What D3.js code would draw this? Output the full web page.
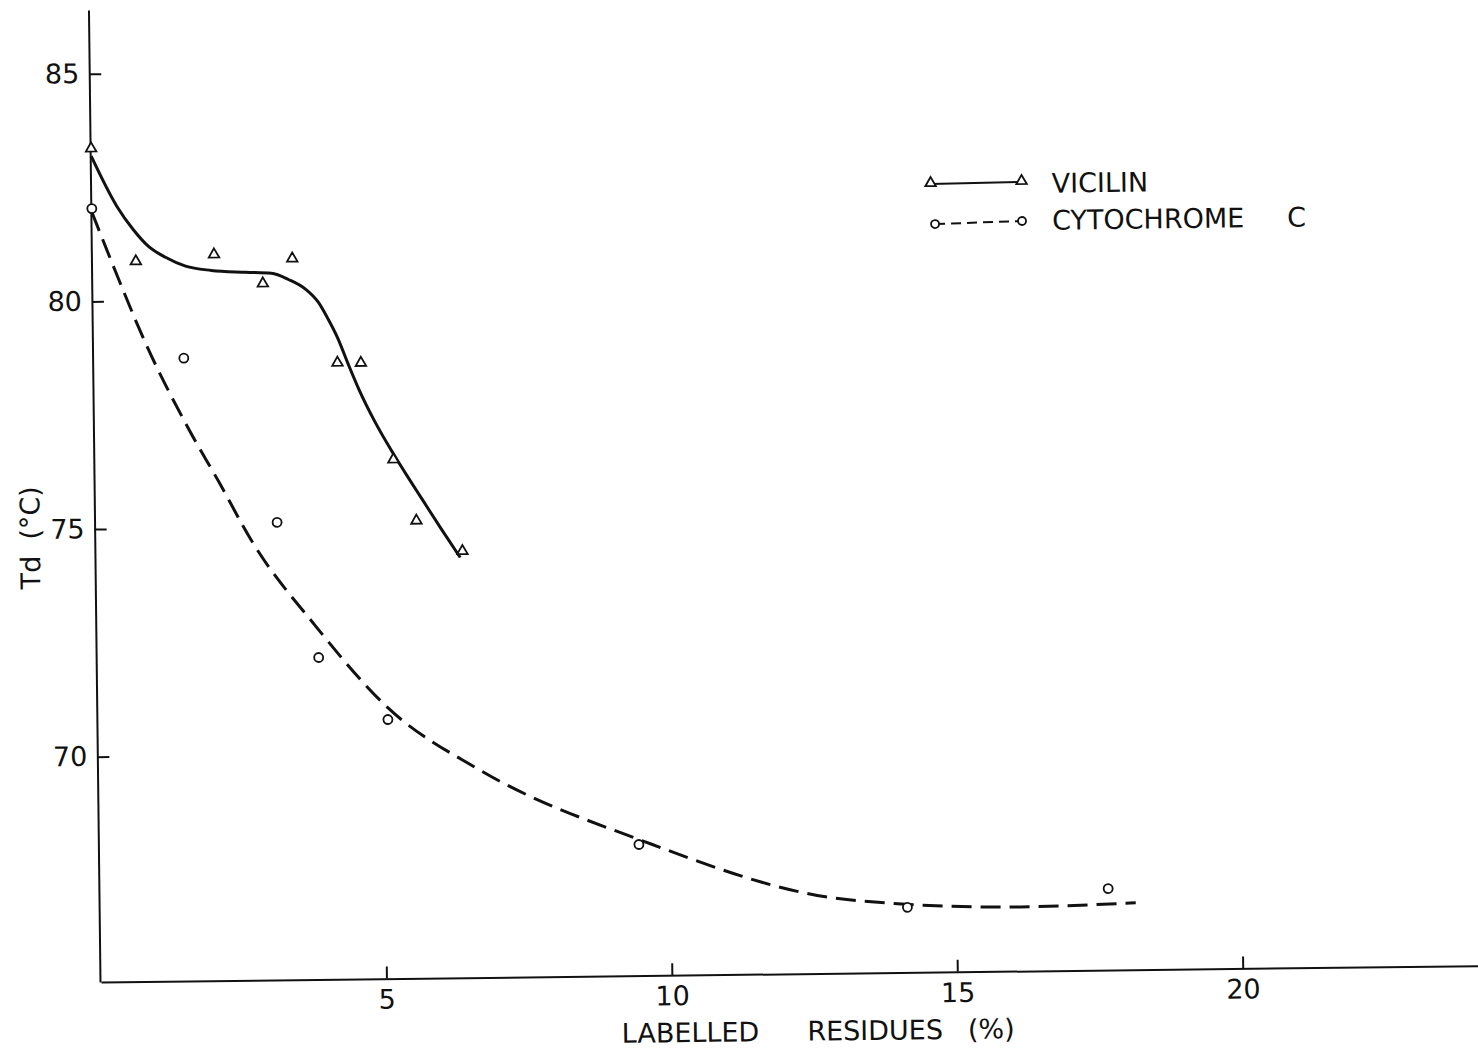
<!DOCTYPE html>
<html>
<head>
<meta charset="utf-8">
<script src="https://cdn.jsdelivr.net/npm/d3@7"></script>
<style>
  html, body { margin: 0; padding: 0; background: #fff; }
  svg { display: block; }
  text { font-family: "DejaVu Sans", sans-serif; fill: #111; }
</style>
</head>
<body>
<div id="chart"></div>
<script>
// measured points
var vicilinX  = [0, 0.76, 2.13, 2.98, 3.50, 4.27, 4.68, 5.23, 5.62, 6.42];
var vicilinTd = [83.36, 80.87, 81.0, 80.35, 80.89, 78.59, 78.58, 76.45, 75.10, 74.42];

var cytoX  = [0, 1.58, 3.18, 3.88, 5.08, 9.45, 14.14, 17.66];
var cytoTd = [82.04, 78.73, 75.10, 72.12, 70.74, 67.93, 66.48, 66.84];

// hand-drawn fitted curves
var vicilinFitX  = [0, 0.44, 0.72, 0.98, 1.28, 1.63, 2.08, 2.68, 3.13, 3.43, 3.73, 3.95, 4.12, 4.28, 4.46, 4.64, 4.92, 5.21, 5.50, 5.73, 6.07, 6.38];
var vicilinFitTd = [83.19, 82.08, 81.57, 81.20, 80.95, 80.75, 80.65, 80.60, 80.57, 80.43, 80.21, 79.92, 79.54, 79.13, 78.55, 78.00, 77.27, 76.62, 76.02, 75.56, 74.88, 74.28];

var cytoFitX  = [0, 0.34, 0.92, 1.66, 2.17, 2.73, 3.84, 5.08, 6.66, 9.45, 13.12, 16.04, 18.14];
var cytoFitTd = [81.96, 80.85, 79.05, 77.15, 76.0, 74.70, 72.80, 71.0, 69.62, 68.04, 66.66, 66.46, 66.52];

var xTicks = [5, 10, 15, 20];
var yTicks = [70, 75, 80, 85];

var W = 1478, H = 1050;
var svg = d3.select("#chart").append("svg").attr("width", W).attr("height", H);

// the scanned figure is slightly rotated
var g = svg.append("g").attr("transform", "rotate(-0.68,100,982)");

var x = d3.scaleLinear().domain([0, 24.12]).range([101, 1478]);
var y = d3.scaleLinear().domain([65.05, 86.4]).range([982, 10]);

var xAxis = g.append("g")
    .attr("transform", "translate(0,982)")
    .call(d3.axisBottom(x).tickValues(xTicks).tickSize(-12).tickSizeOuter(0).tickPadding(11));
var yAxis = g.append("g")
    .attr("transform", "translate(100,0)")
    .call(d3.axisLeft(y).tickValues(yTicks).tickSize(-12).tickSizeOuter(0).tickPadding(10));

[xAxis, yAxis].forEach(function(a) {
    a.selectAll("path.domain").attr("stroke", "#111").attr("stroke-width", 2);
    a.selectAll(".tick line").attr("stroke", "#111").attr("stroke-width", 2);
    a.selectAll(".tick text").attr("font-size", 27).attr("font-family", "DejaVu Sans").attr("fill", "#111");
});

var line = d3.line()
    .x(function(d) { return x(d[0]); })
    .y(function(d) { return y(d[1]); })
    .curve(d3.curveMonotoneX);

g.append("path")
    .datum(d3.zip(vicilinFitX, vicilinFitTd))
    .attr("fill", "none").attr("stroke", "#111").attr("stroke-width", 3)
    .attr("d", line);

g.append("path")
    .datum(d3.zip(cytoFitX, cytoFitTd))
    .attr("fill", "none").attr("stroke", "#111").attr("stroke-width", 3)
    .attr("stroke-dasharray", "20,9")
    .attr("d", line);

var tri = d3.symbol().type(d3.symbolTriangle).size(48);

g.selectAll(".vic")
    .data(d3.zip(vicilinX, vicilinTd))
    .enter().append("path")
    .attr("class", "vic")
    .attr("transform", function(d) { return "translate(" + x(d[0]) + "," + y(d[1]) + ")"; })
    .attr("d", tri)
    .attr("fill", "#fff").attr("stroke", "#111").attr("stroke-width", 1.8);

g.selectAll(".cyt")
    .data(d3.zip(cytoX, cytoTd))
    .enter().append("circle")
    .attr("class", "cyt")
    .attr("cx", function(d) { return x(d[0]); })
    .attr("cy", function(d) { return y(d[1]); })
    .attr("r", 4.5)
    .attr("fill", "#fff").attr("stroke", "#111").attr("stroke-width", 1.8);

// axis titles
var xt = g.append("text")
    .attr("x", 621).attr("y", 1049)
    .attr("font-size", 27);
xt.append("tspan").text("LABELLED");
xt.append("tspan").attr("dx", 48).text("RESIDUES");
xt.append("tspan").attr("dx", 25).text("(%)");

var yt = g.append("text")
    .attr("transform", "translate(45,537) rotate(-90)")
    .attr("text-anchor", "middle")
    .attr("font-size", 27);
yt.append("tspan").text("Td");
yt.append("tspan").attr("dx", 16).text("(°C)");

// legend
var leg = g.append("g");
leg.append("line").attr("x1", 940).attr("y1", 194).attr("x2", 1031).attr("y2", 193)
    .attr("stroke", "#111").attr("stroke-width", 2);
leg.append("path").attr("transform", "translate(940,193)").attr("d", tri)
    .attr("fill", "#fff").attr("stroke", "#111").attr("stroke-width", 1.8);
leg.append("path").attr("transform", "translate(1031,192)").attr("d", tri)
    .attr("fill", "#fff").attr("stroke", "#111").attr("stroke-width", 1.8);
leg.append("text").attr("x", 1061).attr("y", 204).attr("font-size", 27)
    .text("VICILIN");

leg.append("line").attr("x1", 944).attr("y1", 234).attr("x2", 1031).attr("y2", 232)
    .attr("stroke", "#111").attr("stroke-width", 2).attr("stroke-dasharray", "10,6");
leg.append("circle").attr("cx", 944).attr("cy", 234).attr("r", 4)
    .attr("fill", "#fff").attr("stroke", "#111").attr("stroke-width", 1.8);
leg.append("circle").attr("cx", 1031).attr("cy", 232).attr("r", 4)
    .attr("fill", "#fff").attr("stroke", "#111").attr("stroke-width", 1.8);
var ct = leg.append("text").attr("x", 1061).attr("y", 241).attr("font-size", 27);
ct.append("tspan").text("CYTOCHROME");
ct.append("tspan").attr("dx", 43).text("C");
</script>
</body>
</html>
